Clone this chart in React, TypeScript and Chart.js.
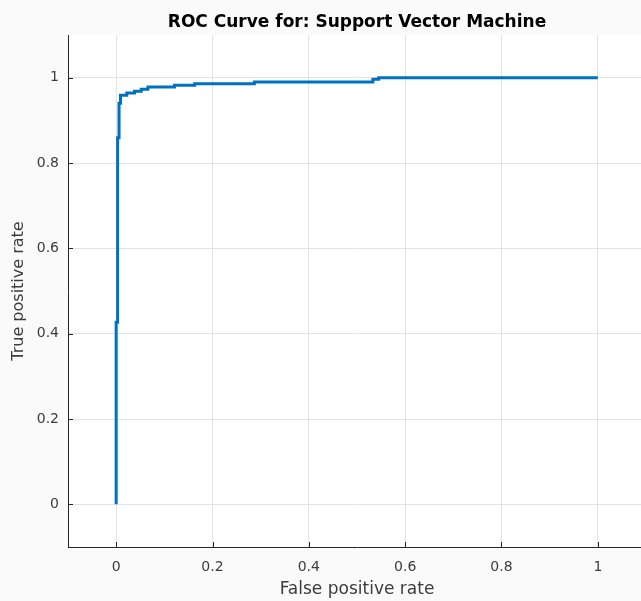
import React, { useEffect, useRef } from 'react';
import { Chart, registerables } from 'chart.js';

Chart.register(...registerables);

// ROC curve corner points (false positive rate, true positive rate)
const fpr = [0, 0, 0.003, 0.003, 0.006, 0.006, 0.009, 0.009, 0.022, 0.022, 0.038, 0.038, 0.052, 0.052, 0.066, 0.066, 0.121, 0.121, 0.163, 0.163, 0.287, 0.287, 0.533, 0.533, 0.545, 0.545, 1];
const tpr = [0, 0.427, 0.427, 0.859, 0.859, 0.94, 0.94, 0.959, 0.959, 0.964, 0.964, 0.968, 0.968, 0.973, 0.973, 0.978, 0.978, 0.982, 0.982, 0.986, 0.986, 0.99, 0.99, 0.996, 0.996, 1, 1];

const xTickValues = [0, 0.2, 0.4, 0.6, 0.8, 1];
const yTickValues = [0, 0.2, 0.4, 0.6, 0.8, 1];

const titleText = 'ROC Curve for: Support Vector Machine';
const xLabel = 'False positive rate';
const yLabel = 'True positive rate';

const AXIS_COLOR = '#262626';
const TEXT_COLOR = '#3c3c3c';

const matlabPlugin = {
  id: 'matlabLook',
  beforeDraw(chart: any) {
    const { ctx, chartArea: a, width, height } = chart;
    ctx.save();
    ctx.fillStyle = '#fafafa';
    ctx.fillRect(0, 0, width, height);
    ctx.fillStyle = '#ffffff';
    ctx.fillRect(a.left, a.top, a.right - a.left, a.bottom - a.top);
    ctx.restore();
  },
  afterDraw(chart: any) {
    const { ctx, chartArea: a, scales } = chart;
    ctx.save();
    ctx.strokeStyle = AXIS_COLOR;
    ctx.lineWidth = 1;
    ctx.beginPath();
    for (const v of xTickValues) {
      const px = Math.round(scales.x.getPixelForValue(v)) + 0.5;
      ctx.moveTo(px, a.bottom);
      ctx.lineTo(px, a.bottom - 5);
    }
    for (const v of yTickValues) {
      const py = Math.round(scales.y.getPixelForValue(v)) + 0.5;
      ctx.moveTo(a.left, py);
      ctx.lineTo(a.left + 5, py);
    }
    ctx.stroke();
    ctx.restore();
  },
};

export default function App() {
  const canvasRef = useRef<HTMLCanvasElement | null>(null);

  useEffect(() => {
    if (!canvasRef.current) return;
    const points = fpr.map((x, i) => ({ x, y: tpr[i] }));
    const chart = new Chart(canvasRef.current, {
      type: 'line',
      data: {
        datasets: [
          {
            data: points,
            borderColor: '#0072BD',
            borderWidth: 3,
            pointRadius: 0,
            fill: false,
            tension: 0,
            borderCapStyle: 'butt',
            borderJoinStyle: 'miter',
          },
        ],
      },
      options: {
        responsive: false,
        animation: false,
        devicePixelRatio: 1,
        layout: { padding: { left: 0, right: 14, top: 0, bottom: 0 } },
        plugins: {
          legend: { display: false },
          tooltip: { enabled: false },
          title: {
            display: true,
            text: titleText,
            fullSize: false,
            color: '#000000',
            font: { family: 'DejaVu Sans', size: 17, weight: 'bold' },
            padding: { top: 12.2, bottom: 2.4 },
          },
        },
        scales: {
          x: {
            type: 'linear',
            min: -0.1,
            max: 1.1,
            afterBuildTicks: (s: any) => {
              s.ticks = xTickValues.map((v) => ({ value: v }));
            },
            afterFit: (s: any) => {
              s.height = 54;
            },
            ticks: {
              color: TEXT_COLOR,
              font: { family: 'DejaVu Sans', size: 14 },
              padding: 12,
              maxRotation: 0,
              autoSkip: false,
              callback: (v: any) => String(v),
            },
            grid: { color: '#e3e3e3', drawTicks: false, lineWidth: 1 },
            border: { color: AXIS_COLOR, width: 1 },
            title: {
              display: true,
              text: xLabel,
              color: TEXT_COLOR,
              font: { family: 'DejaVu Sans', size: 17 },
              padding: { top: 0, bottom: 1.5 },
            },
          },
          y: {
            type: 'linear',
            min: -0.1,
            max: 1.1,
            afterBuildTicks: (s: any) => {
              s.ticks = yTickValues.map((v) => ({ value: v }));
            },
            afterFit: (s: any) => {
              s.width = 68;
            },
            ticks: {
              color: TEXT_COLOR,
              font: { family: 'DejaVu Sans', size: 14 },
              padding: 9,
              autoSkip: false,
              callback: (v: any) => String(v),
            },
            grid: { color: '#e3e3e3', drawTicks: false, lineWidth: 1 },
            border: { color: AXIS_COLOR, width: 1 },
            title: {
              display: true,
              text: yLabel,
              color: TEXT_COLOR,
              font: { family: 'DejaVu Sans', size: 16 },
              padding: { top: 9, bottom: 0 },
            },
          },
        },
      },
      plugins: [matlabPlugin],
    } as any);
    return () => chart.destroy();
  }, []);

  return (
    <div
      style={{
        position: 'fixed',
        left: 0,
        top: 0,
        width: 641,
        height: 601,
        overflow: 'hidden',
        background: '#fafafa',
      }}
    >
      <canvas ref={canvasRef} width={660} height={601} style={{ display: 'block' }} />
    </div>
  );
}
